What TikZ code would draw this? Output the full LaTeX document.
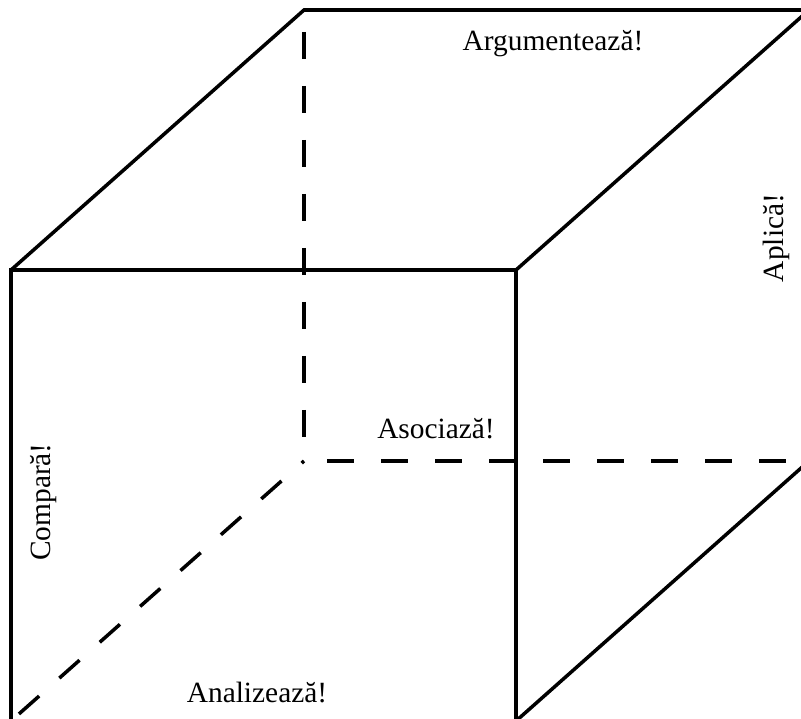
\documentclass[tikz,border=0pt]{standalone}
\usepackage{fontspec}
\setmainfont{Liberation Serif}
\usepackage{tikz}

\tikzset{
  cubeEdge/.style={line width=2.5pt,line cap=butt,line join=miter},
  hiddenEdge/.style={line width=2.5pt,dash pattern=on 19.2pt off 19.2pt},
  faceLabel/.style={inner sep=0pt,anchor=base,font=\fontsize{20.9}{24}\selectfont}
}

\begin{document}
\begin{tikzpicture}[x=0.025cm,y=-0.025cm]

    \useasboundingbox (0,0) rectangle (801,718);
    \clip (0,0) rectangle (801,718);

    % ─── Varfurile cubului ────────────────────────────────
    \coordinate (ftl) at (11,270);
    \coordinate (ftr) at (516,270);
    \coordinate (fbr) at (516,721);
    \coordinate (fbl) at (11,721);
    \coordinate (btl) at (304,10);
    \coordinate (btr) at (809,10);
    \coordinate (bbr) at (809,461);
    \coordinate (bbl) at (304,461);

    % ─── Muchii vizibile ──────────────────────────────────
    \draw[cubeEdge] (ftl) -- (ftr) -- (fbr) -- (fbl) -- cycle;
    \draw[cubeEdge] (ftl) -- (btl) -- (btr) -- (ftr);
    \draw[cubeEdge] (fbr) -- (bbr);

    % ─── Muchii ascunse (punctate) ────────────────────────
    \draw[hiddenEdge,dash phase=22.8pt] (btl) -- (bbl);
    \draw[hiddenEdge,dash phase=22pt] (bbl) -- (bbr);
    \draw[hiddenEdge,dash phase=17pt] (bbl) -- (fbl);

    % ─── Etichete pe fete ─────────────────────────────────
    \node[faceLabel] (argLabel) at (553,50) {Argumentează!};
    \node[faceLabel,rotate=90] (aplLabel) at (783,238) {Aplică!};
    \node[faceLabel] (asoLabel) at (436,438) {Asociază!};
    \node[faceLabel,rotate=90] (cmpLabel) at (50,502) {Compară!};
    \node[faceLabel] (anaLabel) at (257,702) {Analizează!};

\end{tikzpicture}
\end{document}
